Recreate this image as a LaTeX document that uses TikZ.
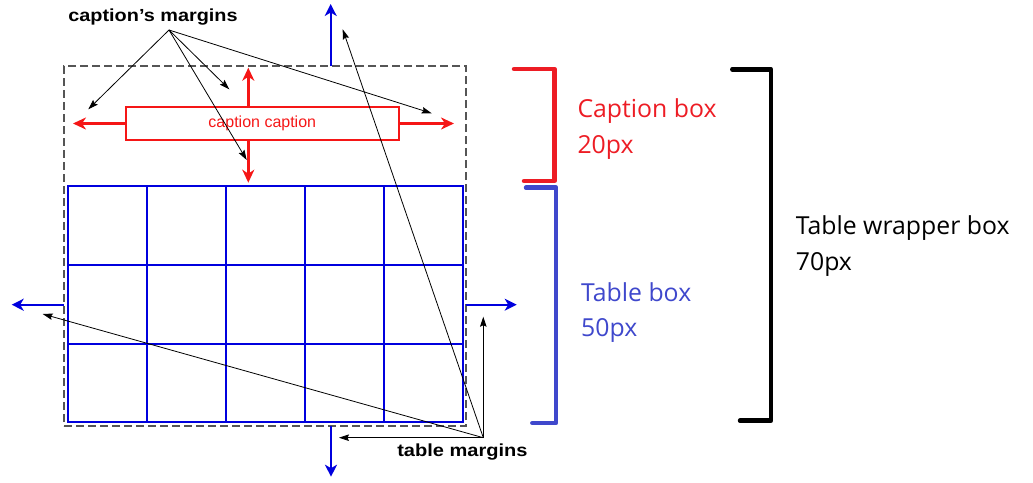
\documentclass[tikz,border=0pt]{standalone}
\usepackage{fontspec}
\setmainfont{Liberation Sans}
\newfontfamily\uifont{Open Sans}
\usetikzlibrary{arrows.meta}
\definecolor{tblue}{RGB}{0,0,222}
\definecolor{cred}{RGB}{245,22,22}
\definecolor{pred}{RGB}{237,28,36}
\definecolor{pblue}{RGB}{63,72,204}
\definecolor{dgray}{RGB}{85,85,85}
\begin{document}
\begin{tikzpicture}[x=1pt,y=-1pt,
  cell/.style={draw=tblue,line width=2pt},
  barrow/.style={draw=tblue,line width=2pt,-{Stealth[length=12pt,width=12pt,inset=3.5pt]}},
  rarrow/.style={draw=cred,line width=2.6pt,-{Stealth[length=13pt,width=12pt,inset=4pt]}},
  karrow/.style={draw=black,line width=0.8pt,-{Stealth[length=10pt,width=6.5pt,inset=1.5pt]}},
  brk/.style={line width=4.5pt,line cap=round,line join=round},
  boldlbl/.style={inner sep=0pt,font=\fontsize{17.5}{17.5}\selectfont\bfseries},
  uilbl/.style={inner sep=0pt,anchor=base west,font=\uifont\fontsize{24.8}{24.8}\selectfont}]
\useasboundingbox (0,0) rectangle (1033,482);

% wrapper box (dashed)
\node[draw=dgray,line width=1.2pt,dash pattern=on 8pt off 4pt,minimum width=402pt,minimum height=360pt,inner sep=0pt,outer sep=0pt] (wrap) at (265,246) {};

% table
\node[cell,minimum width=395pt,minimum height=236.6pt,inner sep=0pt,outer sep=0pt] (tbl) at (265.2,304) {};
\foreach \x in {147,226,304.7,384} \draw[cell] (\x,185.7) -- (\x,422.3);
\foreach \y in {265,343.7} \draw[cell] (67.7,\y) -- (462.7,\y);

% caption box
\node[draw=cred,line width=2pt,minimum width=273pt,minimum height=33pt,inner sep=0pt,outer sep=0pt,text=cred,font=\fontsize{16}{16}\selectfont] (cap) at (262.3,123.5) {caption caption};

% red arrows
\coordinate (capL) at (73,123.5);
\coordinate (capR) at (454,123.5);
\coordinate (capU) at (248.3,67.7);
\coordinate (capD) at (248.3,182.7);
\draw[rarrow] (cap.west) -- (capL);
\draw[rarrow] (cap.east) -- (capR);
\draw[rarrow] (cap.north -| capU) -- (capU);
\draw[rarrow] (cap.south -| capD) -- (capD);

% blue arrows
\coordinate (bU) at (330.7,4);
\coordinate (bL) at (11.7,304.7);
\coordinate (bR) at (516.7,304.7);
\coordinate (bD) at (331,476.7);
\draw[barrow] (wrap.north -| bU) -- (bU);
\draw[barrow] (wrap.west |- bL) -- (bL);
\draw[barrow] (wrap.east |- bR) -- (bR);
\draw[barrow] (wrap.south -| bD) -- (bD);

% labels
\node[boldlbl] (cm) at (153,17) {\scalebox{1.135}[1]{caption’s margins}};
\node[boldlbl] (tm) at (462.4,452.5) {\scalebox{1.145}[1]{table margins}};

\coordinate (cmO) at (169,30);
\coordinate (cmA) at (88.3,109.3);
\coordinate (cmB) at (229.3,89.3);
\coordinate (cmC) at (246.7,160);
\coordinate (cmD) at (431.7,113.3);
\foreach \t in {cmA,cmB,cmC,cmD} \draw[karrow] (cmO) -- (\t);

\coordinate (tmO) at (483.3,437.7);
\coordinate (tmA) at (42.7,314);
\coordinate (tmB) at (342.7,29.3);
\coordinate (tmC) at (483.3,316.7);
\coordinate (tmD) at (339,437.7);
\foreach \t in {tmA,tmB,tmC,tmD} \draw[karrow] (tmO) -- (\t);

% brackets
\draw[brk,pred] (514,69) -- (554.3,69) -- (554.3,181) -- (524,181);
\draw[brk,pblue] (526,187.7) -- (556,187.7) -- (556,423) -- (532.3,423);
\draw[brk,black] (732.3,69.3) -- (771,69.3) -- (771,420.7) -- (740,420.7);

% bracket labels
\node[uilbl,text=pred] (capbox) at (577.3,117.7) {Caption box};
\node[uilbl,text=pred] (cap20) at (577.3,153.3) {20px};
\node[uilbl,text=pblue] (tblbox) at (581,301) {Table box};
\node[uilbl,text=pblue] (tbl50) at (581,336.7) {50px};
\node[uilbl] (wrapbox) at (795.7,234) {Table wrapper box};
\node[uilbl] (wrap70) at (795.7,270) {70px};
\end{tikzpicture}
\end{document}
